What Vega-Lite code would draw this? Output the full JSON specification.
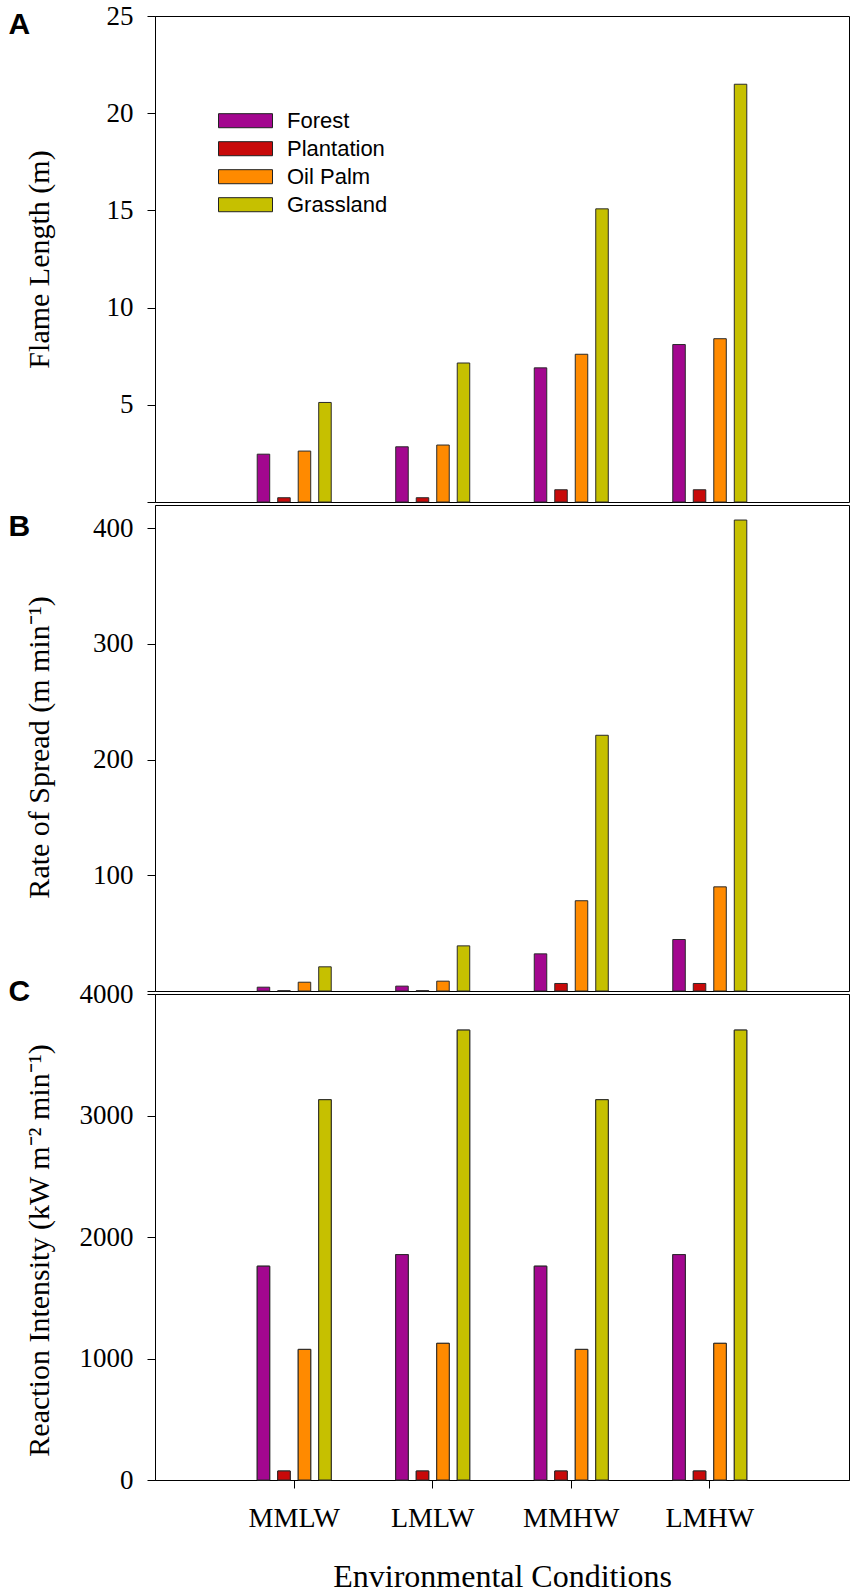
{
  "$schema": "https://vega.github.io/schema/vega-lite/v6.json",
  "padding": {"left": 7, "top": 1, "right": 5, "bottom": 0},
  "bounds": "flush",
  "spacing": 3,
  "background": "white",
  "config": {
    "view": {"stroke": "black", "strokeWidth": 1},
    "axis": {"grid": false, "domainColor": "black", "tickColor": "black", "labelColor": "black", "titleColor": "black", "labelFont": "Liberation Serif", "titleFont": "Liberation Serif", "titleFontWeight": "normal", "tickSize": 8},
    "bar": {"stroke": "#2a2a2a", "strokeWidth": 1}
  },
  "data": {"values": [
    {"panel": "A", "cond": "MMLW", "type": "Forest", "value": 2.46},
    {"panel": "A", "cond": "MMLW", "type": "Plantation", "value": 0.22},
    {"panel": "A", "cond": "MMLW", "type": "Oil Palm", "value": 2.62},
    {"panel": "A", "cond": "MMLW", "type": "Grassland", "value": 5.12},
    {"panel": "A", "cond": "LMLW", "type": "Forest", "value": 2.84},
    {"panel": "A", "cond": "LMLW", "type": "Plantation", "value": 0.22},
    {"panel": "A", "cond": "LMLW", "type": "Oil Palm", "value": 2.93},
    {"panel": "A", "cond": "LMLW", "type": "Grassland", "value": 7.15},
    {"panel": "A", "cond": "MMHW", "type": "Forest", "value": 6.9},
    {"panel": "A", "cond": "MMHW", "type": "Plantation", "value": 0.63},
    {"panel": "A", "cond": "MMHW", "type": "Oil Palm", "value": 7.6},
    {"panel": "A", "cond": "MMHW", "type": "Grassland", "value": 15.08},
    {"panel": "A", "cond": "LMHW", "type": "Forest", "value": 8.1},
    {"panel": "A", "cond": "LMHW", "type": "Plantation", "value": 0.63},
    {"panel": "A", "cond": "LMHW", "type": "Oil Palm", "value": 8.4},
    {"panel": "A", "cond": "LMHW", "type": "Grassland", "value": 21.49},
    {"panel": "B", "cond": "MMLW", "type": "Forest", "value": 3.3},
    {"panel": "B", "cond": "MMLW", "type": "Plantation", "value": 0.3},
    {"panel": "B", "cond": "MMLW", "type": "Oil Palm", "value": 7.6},
    {"panel": "B", "cond": "MMLW", "type": "Grassland", "value": 20.9},
    {"panel": "B", "cond": "LMLW", "type": "Forest", "value": 4.2},
    {"panel": "B", "cond": "LMLW", "type": "Plantation", "value": 0.3},
    {"panel": "B", "cond": "LMLW", "type": "Oil Palm", "value": 8.5},
    {"panel": "B", "cond": "LMLW", "type": "Grassland", "value": 39},
    {"panel": "B", "cond": "MMHW", "type": "Forest", "value": 32.1},
    {"panel": "B", "cond": "MMHW", "type": "Plantation", "value": 6.5},
    {"panel": "B", "cond": "MMHW", "type": "Oil Palm", "value": 78},
    {"panel": "B", "cond": "MMHW", "type": "Grassland", "value": 221},
    {"panel": "B", "cond": "LMHW", "type": "Forest", "value": 44.5},
    {"panel": "B", "cond": "LMHW", "type": "Plantation", "value": 6.5},
    {"panel": "B", "cond": "LMHW", "type": "Oil Palm", "value": 90},
    {"panel": "B", "cond": "LMHW", "type": "Grassland", "value": 407},
    {"panel": "C", "cond": "MMLW", "type": "Forest", "value": 1760},
    {"panel": "C", "cond": "MMLW", "type": "Plantation", "value": 74},
    {"panel": "C", "cond": "MMLW", "type": "Oil Palm", "value": 1075},
    {"panel": "C", "cond": "MMLW", "type": "Grassland", "value": 3130},
    {"panel": "C", "cond": "LMLW", "type": "Forest", "value": 1855},
    {"panel": "C", "cond": "LMLW", "type": "Plantation", "value": 74},
    {"panel": "C", "cond": "LMLW", "type": "Oil Palm", "value": 1125},
    {"panel": "C", "cond": "LMLW", "type": "Grassland", "value": 3703},
    {"panel": "C", "cond": "MMHW", "type": "Forest", "value": 1760},
    {"panel": "C", "cond": "MMHW", "type": "Plantation", "value": 74},
    {"panel": "C", "cond": "MMHW", "type": "Oil Palm", "value": 1075},
    {"panel": "C", "cond": "MMHW", "type": "Grassland", "value": 3130},
    {"panel": "C", "cond": "LMHW", "type": "Forest", "value": 1855},
    {"panel": "C", "cond": "LMHW", "type": "Plantation", "value": 74},
    {"panel": "C", "cond": "LMHW", "type": "Oil Palm", "value": 1125},
    {"panel": "C", "cond": "LMHW", "type": "Grassland", "value": 3703}
  ]},
  "resolve": {"scale": {"y": "independent", "x": "independent"}, "legend": {"color": "independent"}},
  "vconcat": [
    {
      "width": 694, "height": 486,
      "transform": [{"filter": "datum.panel == 'A'"}],
      "mark": {"type": "bar"},
      "encoding": {
        "x": {"field": "cond", "type": "nominal", "scale": {"domain": ["MMLW", "LMLW", "MMHW", "LMHW"], "paddingInner": 0.408, "paddingOuter": 0.709, "round": false},
          "axis": {"orient": "top", "labels": false, "ticks": false, "domain": false, "title": "A", "titleX": -147, "titleY": 17.7, "titleAngle": 0, "titleAlign": "left", "titleBaseline": "alphabetic", "titleFont": "Liberation Sans", "titleFontWeight": "bold", "titleFontSize": 30}},
        "xOffset": {"field": "type", "type": "nominal", "sort": ["Forest", "Plantation", "Oil Palm", "Grassland"], "scale": {"paddingInner": 0.39, "paddingOuter": 0.195, "round": false}},
        "y": {"field": "value", "type": "quantitative", "scale": {"domain": [0, 25], "nice": false, "zero": true},
          "axis": {"values": [0, 5, 10, 15, 20, 25], "labelExpr": "datum.value == 0 ? '' : datum.label", "labelFontSize": 27, "labelPadding": 14, "title": "Flame Length (m)", "titleFontSize": 30, "titleX": -107, "titleY": 243, "titleBaseline": "alphabetic"}},
        "color": {"field": "type", "type": "nominal", "sort": ["Forest", "Plantation", "Oil Palm", "Grassland"],
          "scale": {"domain": ["Forest", "Plantation", "Oil Palm", "Grassland"], "range": ["#a3078f", "#c80a0a", "#ff8a00", "#c6c000"]},
          "legend": {"orient": "none", "legendX": 76.5, "legendY": 90.7, "title": null, "padding": 0, "symbolType": "M-2,-0.52H2V0.52H-2Z", "symbolSize": 729, "symbolStrokeColor": "#222", "symbolStrokeWidth": 1, "symbolOpacity": 1, "labelFont": "Liberation Sans", "labelFontSize": 22, "labelColor": "black", "labelOffset": 27.5, "rowPadding": 3}}
      }
    },
    {
      "width": 694, "height": 486,
      "transform": [{"filter": "datum.panel == 'B'"}],
      "mark": {"type": "bar"},
      "encoding": {
        "x": {"field": "cond", "type": "nominal", "scale": {"domain": ["MMLW", "LMLW", "MMHW", "LMHW"], "paddingInner": 0.408, "paddingOuter": 0.709, "round": false},
          "axis": {"orient": "top", "labels": false, "ticks": false, "domain": false, "title": "B", "titleX": -147, "titleY": 30.3, "titleAngle": 0, "titleAlign": "left", "titleBaseline": "alphabetic", "titleFont": "Liberation Sans", "titleFontWeight": "bold", "titleFontSize": 30}},
        "xOffset": {"field": "type", "type": "nominal", "sort": ["Forest", "Plantation", "Oil Palm", "Grassland"], "scale": {"paddingInner": 0.39, "paddingOuter": 0.195, "round": false}},
        "y": {"field": "value", "type": "quantitative", "scale": {"domain": [0, 420], "nice": false, "zero": true},
          "axis": {"values": [0, 100, 200, 300, 400], "labelExpr": "datum.value == 0 ? '' : datum.label", "labelFontSize": 27, "labelPadding": 14, "title": "Rate of Spread (m min⁻¹)", "titleFontSize": 30, "titleX": -107, "titleY": 242, "titleBaseline": "alphabetic"}},
        "color": {"field": "type", "type": "nominal", "sort": ["Forest", "Plantation", "Oil Palm", "Grassland"],
          "scale": {"domain": ["Forest", "Plantation", "Oil Palm", "Grassland"], "range": ["#a3078f", "#c80a0a", "#ff8a00", "#c6c000"]},
          "legend": null}
      }
    },
    {
      "width": 694, "height": 486,
      "transform": [{"filter": "datum.panel == 'C'"}],
      "encoding": {
        "xOffset": {"field": "type", "type": "nominal", "sort": ["Forest", "Plantation", "Oil Palm", "Grassland"], "scale": {"paddingInner": 0.39, "paddingOuter": 0.195, "round": false}},
        "y": {"field": "value", "type": "quantitative", "scale": {"domain": [0, 4000], "nice": false, "zero": true},
          "axis": {"values": [0, 1000, 2000, 3000, 4000], "format": "d", "labelFontSize": 27, "labelPadding": 14, "title": "Reaction Intensity (kW m⁻² min⁻¹)", "titleFontSize": 30, "titleX": -107, "titleY": 256, "titleBaseline": "alphabetic"}},
        "color": {"field": "type", "type": "nominal", "sort": ["Forest", "Plantation", "Oil Palm", "Grassland"],
          "scale": {"domain": ["Forest", "Plantation", "Oil Palm", "Grassland"], "range": ["#a3078f", "#c80a0a", "#ff8a00", "#c6c000"]},
          "legend": null}
      },
      "layer": [
        {
          "mark": {"type": "bar"},
          "encoding": {
            "x": {"field": "cond", "type": "nominal", "scale": {"domain": ["MMLW", "LMLW", "MMHW", "LMHW"], "paddingInner": 0.408, "paddingOuter": 0.709, "round": false},
              "axis": {"title": "Environmental Conditions", "labelAngle": 0, "labelFontSize": 28, "labelPadding": 16, "titleFontSize": 32, "titlePadding": 29, "domain": true}}
          }
        },
        {
          "mark": {"type": "bar"},
          "encoding": {
            "x": {"field": "cond", "type": "nominal", "scale": {"domain": ["MMLW", "LMLW", "MMHW", "LMHW"], "paddingInner": 0.408, "paddingOuter": 0.709, "round": false},
              "axis": {"orient": "top", "labels": false, "ticks": false, "domain": false, "title": "C", "titleX": -147, "titleY": 6.3, "titleAngle": 0, "titleAlign": "left", "titleBaseline": "alphabetic", "titleFont": "Liberation Sans", "titleFontWeight": "bold", "titleFontSize": 30}}
          }
        }
      ],
      "resolve": {"axis": {"x": "independent"}}
    }
  ]
}
